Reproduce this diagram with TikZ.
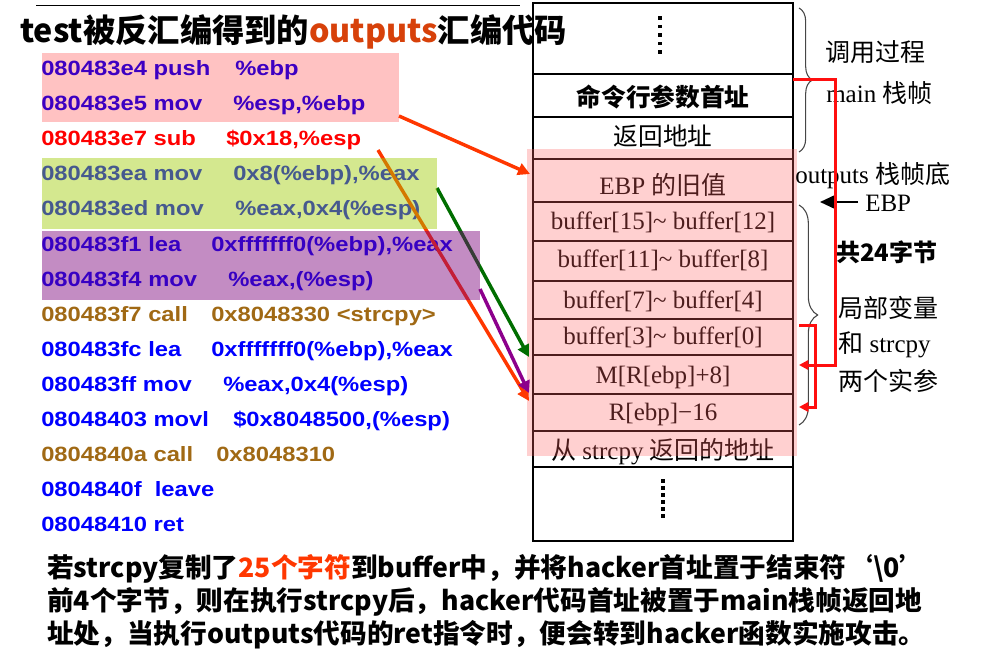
\documentclass[tikz,border=0pt]{standalone}
\usepackage{fontspec}
\setmainfont{Liberation Serif}
\newfontfamily\cjk{Noto Sans CJK SC}
\newfontfamily\codefont{Liberation Sans}[FakeStretch=1.15]
\usetikzlibrary{arrows.meta,decorations.pathreplacing}
\definecolor{codeblue}{RGB}{0,0,255}
\definecolor{codebrown}{RGB}{160,105,20}
\definecolor{codered}{RGB}{255,0,0}
\definecolor{titleorange}{RGB}{215,65,10}
\definecolor{hlred}{RGB}{255,0,0}
\definecolor{hlgreen}{RGB}{158,203,2}
\definecolor{hlpurple}{RGB}{122,0,122}
\definecolor{stackpink}{RGB}{255,98,98}
\definecolor{arrred}{RGB}{255,55,0}
\definecolor{arrgreen}{RGB}{0,110,0}
\definecolor{arrpurple}{RGB}{140,0,140}
\definecolor{bracegray}{RGB}{70,70,70}
\definecolor{framered}{RGB}{255,15,15}
\tikzset{
  code/.style={anchor=base west,inner sep=0pt,font=\codefont\bfseries\fontsize{15.5}{18}\selectfont},
  cell/.style={inner sep=0pt,font=\fontsize{18.75}{22}\selectfont},
  lab/.style={anchor=west,inner sep=0pt,font=\fontsize{18.75}{22}\selectfont},
  hl/.style={fill opacity=0.24,fill=hlred},
  pil/.style={line width=2.6pt,-{Triangle[length=9pt,width=9pt]}},
  keret/.style={line width=2.25pt,draw=framered},
  kapocs/.style={draw=bracegray,line width=0.8pt,decorate,decoration={brace,amplitude=#1}},
  pont/.style={fill,inner sep=0pt,minimum size=2.6pt},
}

\begin{document}
\begin{tikzpicture}[x=0.75pt,y=-0.75pt]
  \useasboundingbox (0,0) rectangle (991,659);
  \draw[line width=0.75pt] (36,6) -- (520,6);
  \node[anchor=base west,inner sep=0pt,font=\cjk\bfseries\fontsize{24.2}{28}\selectfont] (title) at (20,43)
    {test被反汇编得到的\textcolor{titleorange}{outputs}汇编代码};

  % verem
  \draw[line width=0.8pt] (533,3) rectangle (793,541);
  \foreach \y in {74,117,159,202,241,281,319,355,394,431,467}
    \draw[line width=0.8pt] (533,\y) -- (793,\y);
  \foreach \y in {18,26.5,35,43.5,52} \node[pont] at (660,\y) {};
  \foreach \y in {481,488,495,502,509,516} \node[pont] at (663,\y) {};
  \node[cell,font=\cjk\bfseries\fontsize{18.5}{22}\selectfont] (cmd) at (663,97) {命令行参数首址};
  \node[cell,font=\cjk\fontsize{18.5}{22}\selectfont] (ret) at (663,136) {返回地址};
  \node[cell] (ebp) at (663,185) {EBP {\cjk 的旧值}};
  \node[cell] (b15) at (663,222) {buffer[15]\textasciitilde{} buffer[12]};
  \node[cell] (b11) at (663,260) {buffer[11]\textasciitilde{} buffer[8]};
  \node[cell] (b7) at (663,301) {buffer[7]\textasciitilde{} buffer[4]};
  \node[cell] (b3) at (663,337) {buffer[3]\textasciitilde{} buffer[0]};
  \node[cell] (arg2) at (663,377) {M[R[ebp]+8]};
  \node[cell] (arg1) at (663,414) {R[ebp]\textminus16};
  \node[cell] (sret) at (663,452) {{\cjk 从} strcpy {\cjk 返回的地址}};
  \fill[stackpink,fill opacity=0.3] (527,149) rectangle (797,456);

  % jobb oldal
  \draw[kapocs=10pt] (799,8) -- (799,152);
  \draw[kapocs=14pt] (799,205) -- (799,425);
  \node[lab,font=\cjk\fontsize{18.75}{22}\selectfont] (call) at (825,52) {调用过程};
  \node[lab] (mainf) at (826,93) {main {\cjk 栈帧}};
  \node[lab] (bottom) at (795,176) {outputs {\cjk 栈帧底}};
  \node[lab] (ebpl) at (865,203) {EBP};
  \node[lab,font=\cjk\bfseries\fontsize{18}{22}\selectfont] (sum) at (836,252) {共24字节};
  \node[lab,font=\cjk\fontsize{18.75}{22}\selectfont] (loc) at (838,308) {局部变量};
  \node[lab] (and) at (838,345) {{\cjk 和} strcpy};
  \node[lab,font=\cjk\fontsize{18.75}{22}\selectfont] (two) at (838,381) {两个实参};
  \coordinate (ebptail) at (858,202);
  \coordinate (ebptip) at (820,202);
  \draw[line width=1.3pt,-{Triangle[length=11pt,width=10pt]}] (ebptail) -- (ebptip);

  \coordinate (m1) at (793,80);
  \coordinate (m2) at (799,365);
  \coordinate (s1) at (799,325);
  \coordinate (s2) at (799,407);
  \draw[keret,-{Triangle[length=7pt,width=7pt]}] (m1) -- (835,80) |- (m2);
  \draw[keret,-{Triangle[length=7pt,width=7pt]}] (s1) -- (815,325) |- (s2);

  % kod
  \node[code,text=codeblue] (l1) at (41,76) {080483e4 push};
  \node[code,text=codeblue] (o1) at (235,76) {\%ebp};
  \node[code,text=codeblue] (l2) at (41,111) {080483e5 mov};
  \node[code,text=codeblue] (o2) at (233,111) {\%esp,\%ebp};
  \node[code,text=codered] (l3) at (41,146) {080483e7 sub};
  \node[code,text=codered] (o3) at (226,146) {\$0x18,\%esp};
  \node[code,text=codeblue] (l4) at (41,181) {080483ea mov};
  \node[code,text=codeblue] (o4) at (233,181) {0x8(\%ebp),\%eax};
  \node[code,text=codeblue] (l5) at (41,216) {080483ed mov};
  \node[code,text=codeblue] (o5) at (235,216) {\%eax,0x4(\%esp)};
  \node[code,text=codeblue] (l6) at (41,251) {080483f1 lea};
  \node[code,text=codeblue] (o6) at (211,251) {0xfffffff0(\%ebp),\%eax};
  \node[code,text=codeblue] (l7) at (41,286) {080483f4 mov};
  \node[code,text=codeblue] (o7) at (228,286) {\%eax,(\%esp)};
  \node[code,text=codebrown] (l8) at (41,321) {080483f7 call};
  \node[code,text=codebrown] (o8) at (211,321) {0x8048330 <strcpy>};
  \node[code,text=codeblue] (l9) at (41,356) {080483fc lea};
  \node[code,text=codeblue] (o9) at (211,356) {0xfffffff0(\%ebp),\%eax};
  \node[code,text=codeblue] (l10) at (41,391) {080483ff mov};
  \node[code,text=codeblue] (o10) at (223,391) {\%eax,0x4(\%esp)};
  \node[code,text=codeblue] (l11) at (41,426) {08048403 movl};
  \node[code,text=codeblue] (o11) at (233,426) {\$0x8048500,(\%esp)};
  \node[code,text=codebrown] (l12) at (41,461) {0804840a call};
  \node[code,text=codebrown] (o12) at (216,461) {0x8048310};
  \node[code,text=codeblue] (l13) at (41,496) {0804840f\ \ leave};
  \node[code,text=codeblue] (l14) at (41,531) {08048410 ret};

  % nyilak
  \coordinate (a1) at (399,116);
  \coordinate (a2) at (378,150);
  \coordinate (a3) at (437,188);
  \coordinate (a4) at (480,289);
  \coordinate (t1) at (530,174);
  \coordinate (t2) at (529,401);
  \coordinate (t3) at (529,357);
  \coordinate (t4) at (529,393);
  \draw[pil,arrred] (a1) -- (t1);
  \draw[pil,arrred] (a2) -- (t2);
  \draw[pil,arrgreen] (a3) -- (t3);
  \draw[pil,arrpurple] (a4) -- (t4);

  % kiemelesek
  \fill[hl] (42,53) rectangle (399,122);
  \fill[hl,fill=hlgreen,fill opacity=0.443] (42,158) rectangle (437,229);
  \fill[hl,fill=hlpurple,fill opacity=0.45] (42,231) rectangle (480,300);

  % also szoveg
  \begin{scope}[every node/.style={anchor=base west,inner sep=0pt,font=\cjk\bfseries\fontsize{20}{24}\selectfont}]
    \node (s1) at (47,577) {若strcpy复制了\textcolor{arrred}{25个字符}到buffer中，并将hacker首址置于结束符‘\textbackslash0’};
    \node (s2) at (47,610) {前4个字节，则在执行strcpy后，hacker代码首址被置于main栈帧返回地};
    \node (s3) at (47,643) {址处，当执行outputs代码的ret指令时，便会转到hacker函数实施攻击。};
  \end{scope}
\end{tikzpicture}
\end{document}
